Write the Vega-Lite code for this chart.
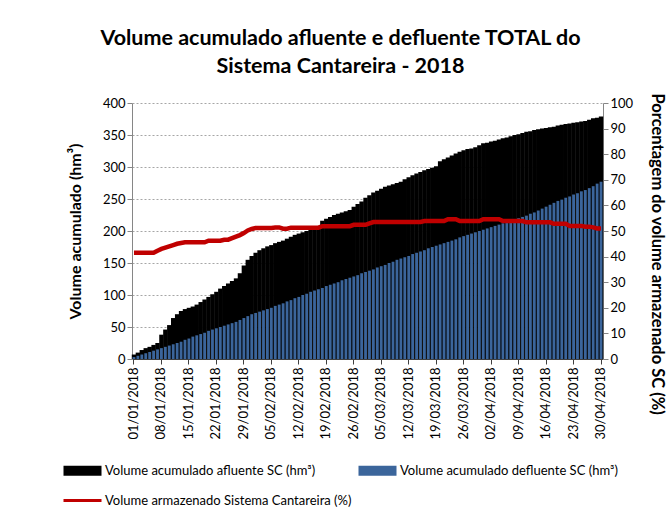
{
  "$schema": "https://vega.github.io/schema/vega-lite/v6.json",
  "autosize": "none",
  "width": 471,
  "height": 256,
  "padding": {"left": 132, "top": 103, "right": 69, "bottom": 153},
  "background": "white",
  "config": {"font": "Lato", "view": {"stroke": null}},
  "title": {
    "text": ["Volume acumulado afluente e defluente  TOTAL do", "Sistema Cantareira - 2018"],
    "fontSize": 21.5, "font": "Lato", "fontWeight": "bold", "lineHeight": 28,
    "offset": 16, "dx": -27, "color": "#000000"
  },
  "data": {"values": [
    {"d":"01/01/2018","a":7,"b":3,"p":41.5},
    {"d":"02/01/2018","a":10,"b":5,"p":41.5},
    {"d":"03/01/2018","a":14,"b":7,"p":41.5},
    {"d":"04/01/2018","a":17,"b":9,"p":41.5},
    {"d":"05/01/2018","a":19,"b":11,"p":41.5},
    {"d":"06/01/2018","a":22,"b":13,"p":41.5},
    {"d":"07/01/2018","a":25,"b":15,"p":42.3},
    {"d":"08/01/2018","a":38,"b":17,"p":43.0},
    {"d":"09/01/2018","a":46,"b":19,"p":43.5},
    {"d":"10/01/2018","a":53,"b":21,"p":44.0},
    {"d":"11/01/2018","a":64,"b":23,"p":44.5},
    {"d":"12/01/2018","a":70,"b":25,"p":45.0},
    {"d":"13/01/2018","a":75,"b":27,"p":45.3},
    {"d":"14/01/2018","a":78,"b":30,"p":45.6},
    {"d":"15/01/2018","a":80,"b":32,"p":45.6},
    {"d":"16/01/2018","a":82,"b":35,"p":45.6},
    {"d":"17/01/2018","a":85,"b":37,"p":45.6},
    {"d":"18/01/2018","a":89,"b":39,"p":45.6},
    {"d":"19/01/2018","a":93,"b":41,"p":45.6},
    {"d":"20/01/2018","a":97,"b":44,"p":46.2},
    {"d":"21/01/2018","a":101,"b":46,"p":46.2},
    {"d":"22/01/2018","a":105,"b":48,"p":46.2},
    {"d":"23/01/2018","a":110,"b":50,"p":46.2},
    {"d":"24/01/2018","a":114,"b":52,"p":46.6},
    {"d":"25/01/2018","a":118,"b":54,"p":46.6},
    {"d":"26/01/2018","a":122,"b":56,"p":47.2},
    {"d":"27/01/2018","a":126,"b":58,"p":47.8},
    {"d":"28/01/2018","a":134,"b":61,"p":48.4},
    {"d":"29/01/2018","a":146,"b":64,"p":49.2},
    {"d":"30/01/2018","a":155,"b":67,"p":50.2},
    {"d":"31/01/2018","a":161,"b":70,"p":50.8},
    {"d":"01/02/2018","a":166,"b":72,"p":51.2},
    {"d":"02/02/2018","a":170,"b":74,"p":51.2},
    {"d":"03/02/2018","a":173,"b":76,"p":51.2},
    {"d":"04/02/2018","a":176,"b":78,"p":51.2},
    {"d":"05/02/2018","a":178,"b":80,"p":51.2},
    {"d":"06/02/2018","a":181,"b":83,"p":51.4},
    {"d":"07/02/2018","a":183,"b":85,"p":51.4},
    {"d":"08/02/2018","a":185,"b":87,"p":50.9},
    {"d":"09/02/2018","a":188,"b":90,"p":50.9},
    {"d":"10/02/2018","a":191,"b":92,"p":51.3},
    {"d":"11/02/2018","a":194,"b":95,"p":51.3},
    {"d":"12/02/2018","a":196,"b":97,"p":51.3},
    {"d":"13/02/2018","a":198,"b":100,"p":51.3},
    {"d":"14/02/2018","a":200,"b":102,"p":51.3},
    {"d":"15/02/2018","a":202,"b":105,"p":51.3},
    {"d":"16/02/2018","a":204,"b":107,"p":51.3},
    {"d":"17/02/2018","a":207,"b":109,"p":51.3},
    {"d":"18/02/2018","a":216,"b":111,"p":51.9},
    {"d":"19/02/2018","a":219,"b":114,"p":51.9},
    {"d":"20/02/2018","a":222,"b":116,"p":51.9},
    {"d":"21/02/2018","a":225,"b":118,"p":51.9},
    {"d":"22/02/2018","a":227,"b":120,"p":51.9},
    {"d":"23/02/2018","a":229,"b":123,"p":51.9},
    {"d":"24/02/2018","a":231,"b":125,"p":51.9},
    {"d":"25/02/2018","a":233,"b":127,"p":51.9},
    {"d":"26/02/2018","a":238,"b":129,"p":52.4},
    {"d":"27/02/2018","a":242,"b":131,"p":52.4},
    {"d":"28/02/2018","a":246,"b":134,"p":52.4},
    {"d":"01/03/2018","a":252,"b":136,"p":52.4},
    {"d":"02/03/2018","a":256,"b":138,"p":53.0},
    {"d":"03/03/2018","a":260,"b":140,"p":53.5},
    {"d":"04/03/2018","a":263,"b":143,"p":53.5},
    {"d":"05/03/2018","a":266,"b":145,"p":53.5},
    {"d":"06/03/2018","a":269,"b":147,"p":53.5},
    {"d":"07/03/2018","a":271,"b":150,"p":53.5},
    {"d":"08/03/2018","a":273,"b":152,"p":53.5},
    {"d":"09/03/2018","a":275,"b":155,"p":53.5},
    {"d":"10/03/2018","a":277,"b":157,"p":53.5},
    {"d":"11/03/2018","a":281,"b":159,"p":53.5},
    {"d":"12/03/2018","a":284,"b":161,"p":53.5},
    {"d":"13/03/2018","a":287,"b":164,"p":53.5},
    {"d":"14/03/2018","a":290,"b":166,"p":53.5},
    {"d":"15/03/2018","a":292,"b":168,"p":53.5},
    {"d":"16/03/2018","a":295,"b":170,"p":53.9},
    {"d":"17/03/2018","a":297,"b":173,"p":53.9},
    {"d":"18/03/2018","a":299,"b":175,"p":53.9},
    {"d":"19/03/2018","a":301,"b":177,"p":53.9},
    {"d":"20/03/2018","a":309,"b":179,"p":53.9},
    {"d":"21/03/2018","a":312,"b":181,"p":53.9},
    {"d":"22/03/2018","a":315,"b":183,"p":54.6},
    {"d":"23/03/2018","a":318,"b":185,"p":54.6},
    {"d":"24/03/2018","a":321,"b":187,"p":54.6},
    {"d":"25/03/2018","a":324,"b":190,"p":53.9},
    {"d":"26/03/2018","a":326,"b":192,"p":53.9},
    {"d":"27/03/2018","a":328,"b":194,"p":53.9},
    {"d":"28/03/2018","a":329,"b":196,"p":53.9},
    {"d":"29/03/2018","a":331,"b":198,"p":53.9},
    {"d":"30/03/2018","a":334,"b":200,"p":53.9},
    {"d":"31/03/2018","a":337,"b":202,"p":54.6},
    {"d":"01/04/2018","a":338,"b":204,"p":54.6},
    {"d":"02/04/2018","a":340,"b":206,"p":54.6},
    {"d":"03/04/2018","a":341,"b":208,"p":54.6},
    {"d":"04/04/2018","a":343,"b":210,"p":54.6},
    {"d":"05/04/2018","a":345,"b":212,"p":53.9},
    {"d":"06/04/2018","a":346,"b":213,"p":53.9},
    {"d":"07/04/2018","a":348,"b":215,"p":53.9},
    {"d":"08/04/2018","a":350,"b":217,"p":53.9},
    {"d":"09/04/2018","a":351,"b":220,"p":53.9},
    {"d":"10/04/2018","a":353,"b":222,"p":53.9},
    {"d":"11/04/2018","a":355,"b":224,"p":53.4},
    {"d":"12/04/2018","a":356,"b":227,"p":53.4},
    {"d":"13/04/2018","a":358,"b":229,"p":53.4},
    {"d":"14/04/2018","a":359,"b":232,"p":53.4},
    {"d":"15/04/2018","a":360,"b":235,"p":53.4},
    {"d":"16/04/2018","a":361,"b":238,"p":53.4},
    {"d":"17/04/2018","a":362,"b":241,"p":53.4},
    {"d":"18/04/2018","a":363,"b":244,"p":52.8},
    {"d":"19/04/2018","a":365,"b":247,"p":52.8},
    {"d":"20/04/2018","a":366,"b":249,"p":52.8},
    {"d":"21/04/2018","a":367,"b":252,"p":52.8},
    {"d":"22/04/2018","a":368,"b":254,"p":52.0},
    {"d":"23/04/2018","a":369,"b":257,"p":52.0},
    {"d":"24/04/2018","a":370,"b":259,"p":52.0},
    {"d":"25/04/2018","a":371,"b":262,"p":52.0},
    {"d":"26/04/2018","a":372,"b":264,"p":51.7},
    {"d":"27/04/2018","a":374,"b":267,"p":51.7},
    {"d":"28/04/2018","a":376,"b":270,"p":51.4},
    {"d":"29/04/2018","a":377,"b":274,"p":51.0},
    {"d":"30/04/2018","a":379,"b":277,"p":51.0}
  ]},
  "encoding": {
    "x": {
      "field": "d", "type": "ordinal", "sort": null,
      "scale": {"paddingInner": 0, "paddingOuter": 0},
      "axis": {
        "title": null,
        "values": ["01/01/2018","08/01/2018","15/01/2018","22/01/2018","29/01/2018","05/02/2018","12/02/2018","19/02/2018","26/02/2018","05/03/2018","12/03/2018","19/03/2018","26/03/2018","02/04/2018","09/04/2018","16/04/2018","23/04/2018","30/04/2018"],
        "labelAngle": -90, "labelFontSize": 13, "labelColor": "#000000", "labelPadding": 3,
        "domainColor": "#404040", "tickColor": "#404040", "tickSize": 5, "labelOverlap": false
      }
    }
  },
  "layer": [
    {
      "layer": [
        {
          "mark": {"type": "bar", "width": {"band": 1.12}},
          "encoding": {
            "y": {
              "field": "a", "type": "quantitative",
              "scale": {"domain": [0, 400]},
              "axis": {
                "title": "Volume acumulado  (hm³)", "values": [0,50,100,150,200,250,300,350,400],
                "titleFontSize": 16, "titleFontWeight": "bold", "titleColor": "#000000",
                "titleX": -57, "titleY": 128, "titleAngle": -90, "titleAlign": "center", "titleBaseline": "middle",
                "labelFontSize": 13, "labelColor": "#000000",
                "grid": true, "gridDash": [2, 2], "gridColor": "#A6A6A6",
                "domainColor": "#868686", "tickColor": "#868686", "tickSize": 5
              }
            },
            "color": {
              "datum": "Volume acumulado afluente SC (hm³)",
              "scale": {
                "domain": ["Volume acumulado afluente SC (hm³)", "Volume acumulado defluente SC (hm³)", "Volume armazenado Sistema Cantareira (%)"],
                "range": ["#000000", "#3B659B", "#C00000"]
              },
              "legend": {
                "title": null, "orient": "none", "legendX": -56, "legendY": 361,
                "direction": "horizontal", "columns": 2, "columnPadding": 6, "rowPadding": 16,
                "labelFontSize": 13, "labelColor": "#000000", "labelLimit": 400, "labelOffset": 16,
                "symbolSize": 100, "symbolStrokeWidth": 0,
                "symbolType": "M-3.8,-1H3.8V1H-3.8Z",
                "encode": {
                  "symbols": {
                    "update": {
                      "shape": {"signal": "datum.value == 'Volume armazenado Sistema Cantareira (%)' ? 'M-3.8,-0.3H3.8V0.3H-3.8Z' : 'M-3.8,-1H3.8V1H-3.8Z'"},
                      "fill": {"signal": "datum.value == 'Volume armazenado Sistema Cantareira (%)' ? '#C00000' : (datum.value == 'Volume acumulado afluente SC (hm³)' ? '#000000' : '#3B659B')"},
                      "stroke": {"value": "transparent"},
                      "opacity": {"value": 1}
                    }
                  }
                }
              }
            }
          }
        },
        {
          "mark": {"type": "bar", "width": {"band": 0.72}},
          "encoding": {
            "y": {
              "field": "b", "type": "quantitative", "scale": {"domain": [0, 400]},
              "axis": {
                "title": "Volume acumulado  (hm³)", "values": [0,50,100,150,200,250,300,350,400],
                "titleFontSize": 16, "titleFontWeight": "bold", "titleColor": "#000000",
                "titleX": -57, "titleY": 128, "titleAngle": -90, "titleAlign": "center", "titleBaseline": "middle",
                "labelFontSize": 13, "labelColor": "#000000",
                "grid": true, "gridDash": [2, 2], "gridColor": "#A6A6A6",
                "domainColor": "#868686", "tickColor": "#868686", "tickSize": 5
              }
            },
            "color": {"datum": "Volume acumulado defluente SC (hm³)"}
          }
        }
      ]
    },
    {
      "mark": {"type": "line", "strokeWidth": 4.5},
      "encoding": {
        "y": {
          "field": "p", "type": "quantitative",
          "scale": {"domain": [0, 100]},
          "axis": {
            "orient": "right", "values": [0,10,20,30,40,50,60,70,80,90,100],
            "title": "Porcentagem do volume armazenado SC (%)",
            "titleFontSize": 16.5, "titleFontWeight": "bold", "titleColor": "#000000",
            "titleAngle": 90, "titleAlign": "left", "titleBaseline": "middle",
            "titleX": 53, "titleY": -10,
            "labelFontSize": 13, "labelColor": "#000000", "grid": false,
            "domainColor": "#868686", "tickColor": "#868686", "tickSize": 5
          }
        },
        "color": {"datum": "Volume armazenado Sistema Cantareira (%)"}
      }
    }
  ],
  "resolve": {"scale": {"y": "independent"}}
}
